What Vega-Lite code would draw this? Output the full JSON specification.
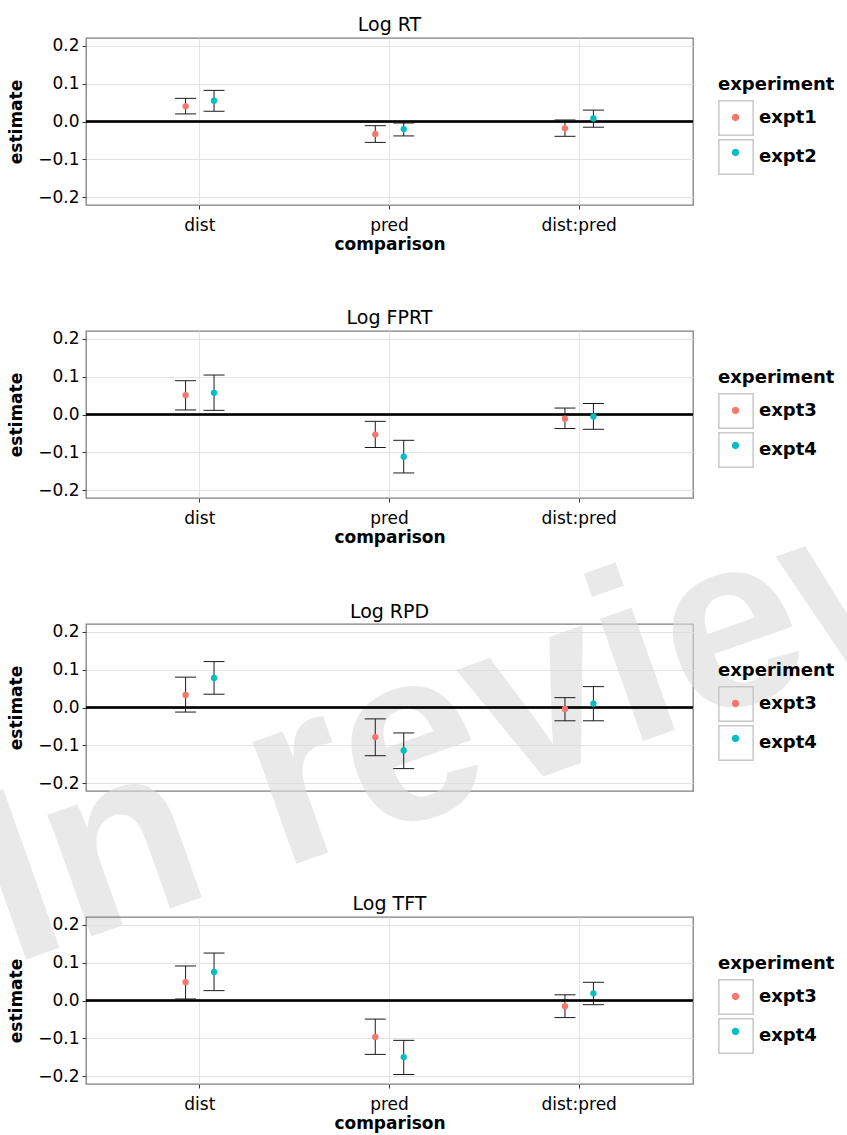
{
  "$schema": "https://vega.github.io/schema/vega-lite/v6.json",
  "autosize": {"type": "none"},
  "padding": {"left": 86, "top": 38, "right": 761, "bottom": 1097},
  "bounds": "flush",
  "background": "white",
  "datasets": {
    "rt": [
      {"comparison": "dist", "experiment": "expt1", "estimate": 0.040, "lower": 0.020, "upper": 0.061},
      {"comparison": "dist", "experiment": "expt2", "estimate": 0.055, "lower": 0.027, "upper": 0.082},
      {"comparison": "pred", "experiment": "expt1", "estimate": -0.033, "lower": -0.055, "upper": -0.011},
      {"comparison": "pred", "experiment": "expt2", "estimate": -0.020, "lower": -0.038, "upper": -0.004},
      {"comparison": "dist:pred", "experiment": "expt1", "estimate": -0.018, "lower": -0.039, "upper": 0.004},
      {"comparison": "dist:pred", "experiment": "expt2", "estimate": 0.008, "lower": -0.015, "upper": 0.030}
    ],
    "fprt": [
      {"comparison": "dist", "experiment": "expt3", "estimate": 0.051, "lower": 0.012, "upper": 0.089},
      {"comparison": "dist", "experiment": "expt4", "estimate": 0.057, "lower": 0.011, "upper": 0.104},
      {"comparison": "pred", "experiment": "expt3", "estimate": -0.053, "lower": -0.087, "upper": -0.018},
      {"comparison": "pred", "experiment": "expt4", "estimate": -0.111, "lower": -0.154, "upper": -0.068},
      {"comparison": "dist:pred", "experiment": "expt3", "estimate": -0.011, "lower": -0.037, "upper": 0.017},
      {"comparison": "dist:pred", "experiment": "expt4", "estimate": -0.005, "lower": -0.039, "upper": 0.029}
    ],
    "rpd": [
      {"comparison": "dist", "experiment": "expt3", "estimate": 0.033, "lower": -0.012, "upper": 0.080},
      {"comparison": "dist", "experiment": "expt4", "estimate": 0.078, "lower": 0.035, "upper": 0.121},
      {"comparison": "pred", "experiment": "expt3", "estimate": -0.078, "lower": -0.127, "upper": -0.030},
      {"comparison": "pred", "experiment": "expt4", "estimate": -0.113, "lower": -0.161, "upper": -0.067},
      {"comparison": "dist:pred", "experiment": "expt3", "estimate": -0.004, "lower": -0.035, "upper": 0.026},
      {"comparison": "dist:pred", "experiment": "expt4", "estimate": 0.010, "lower": -0.035, "upper": 0.055}
    ],
    "tft": [
      {"comparison": "dist", "experiment": "expt3", "estimate": 0.048, "lower": 0.004, "upper": 0.091},
      {"comparison": "dist", "experiment": "expt4", "estimate": 0.075, "lower": 0.026, "upper": 0.125},
      {"comparison": "pred", "experiment": "expt3", "estimate": -0.096, "lower": -0.142, "upper": -0.049},
      {"comparison": "pred", "experiment": "expt4", "estimate": -0.149, "lower": -0.195, "upper": -0.105},
      {"comparison": "dist:pred", "experiment": "expt3", "estimate": -0.015, "lower": -0.045, "upper": 0.015},
      {"comparison": "dist:pred", "experiment": "expt4", "estimate": 0.019, "lower": -0.011, "upper": 0.048}
    ],
    "keys12": [{"key": "expt1"}, {"key": "expt2"}],
    "keys34": [{"key": "expt3"}, {"key": "expt4"}],
    "watermark": [{"label": "In review"}],
    "title3": [{"label": "Log RPD"}]
  },
  "spacing": 126,
  "resolve": {
    "scale": {"color": "independent", "shape": "independent", "xOffset": "independent"},
    "legend": {"color": "independent", "shape": "independent"}
  },
  "vconcat": [
    {
      "width": 607, "height": 167,
      "title": {"text": "Log RT"},
      "data": {"name": "rt"},
      "layer": [
        {"mark": {"type": "rule", "color": "black", "strokeWidth": 1.5}, "encoding": {"y": {"datum": 0, "type": "quantitative", "scale": {"domain": [-0.22, 0.22], "nice": false, "zero": false}}}},
        {"mark": {"type": "rule", "color": "#1a1a1a", "strokeWidth": 1},
         "encoding": {
           "x": {"field": "comparison", "type": "nominal", "scale": {"type": "band", "domain": ["dist", "pred", "dist:pred"], "paddingInner": 0.7, "paddingOuter": 0.45}, "title": "comparison", "axis": {"labelAngle": 0, "labelAlign": "center", "labelBaseline": "top", "grid": true, "bandPosition": 0.5, "domain": false}},
           "xOffset": {"field": "experiment", "type": "nominal", "scale": {"paddingInner": 0, "paddingOuter": 0}},
           "y": {"field": "lower", "type": "quantitative", "scale": {"domain": [-0.22, 0.22], "nice": false, "zero": false}, "title": "estimate",
                 "axis": {"values": [-0.2, -0.15, -0.1, -0.05, 0, 0.05, 0.1, 0.15, 0.2], "domain": false, "grid": true,
                          "labelExpr": "abs(round(datum.value*100)) % 10 == 5 ? '' : format(datum.value, '.1f')",
                          "tickColor": {"condition": {"test": "abs(round(datum.value*100)) % 10 == 5", "value": "transparent"}, "value": "#333333"},
                          "gridColor": {"condition": {"test": "abs(round(datum.value*100)) % 10 == 5", "value": "#f3f3f3"}, "value": "#e3e3e3"}}},
           "y2": {"field": "upper"}
         }},
        {"mark": {"type": "tick", "color": "#1a1a1a", "thickness": 1, "size": 21, "opacity": 1},
         "encoding": {"x": {"field": "comparison", "type": "nominal"}, "xOffset": {"field": "experiment", "type": "nominal"}, "y": {"field": "lower", "type": "quantitative"}}},
        {"mark": {"type": "tick", "color": "#1a1a1a", "thickness": 1, "size": 21, "opacity": 1},
         "encoding": {"x": {"field": "comparison", "type": "nominal"}, "xOffset": {"field": "experiment", "type": "nominal"}, "y": {"field": "upper", "type": "quantitative"}}},
        {"mark": {"type": "point", "filled": true, "size": 40, "opacity": 1},
         "encoding": {
           "x": {"field": "comparison", "type": "nominal"},
           "xOffset": {"field": "experiment", "type": "nominal"},
           "y": {"field": "estimate", "type": "quantitative"},
           "color": {"field": "experiment", "type": "nominal", "scale": {"range": ["#F8766D", "#00BFC4"]},
                     "legend": {"title": "experiment", "symbolType": "M -1 -1 M 1 1 M 0.213 0 A 0.213 0.213 0 1 1 -0.213 0 A 0.213 0.213 0 1 1 0.213 0 Z", "titleOpacity": 0, "labelOpacity": 0, "symbolStrokeWidth": 0, "symbolOpacity": 1}}
         }},
        {"data": {"name": "keys12"}, "mark": {"type": "point", "opacity": 0, "color": "#c8c8c8"},
         "encoding": {
           "shape": {"field": "key", "type": "nominal", "scale": {"range": ["square", "square"]},
                     "legend": {"title": "experiment", "symbolType": "square", "symbolStrokeColor": "#c8c8c8", "symbolOpacity": 1,
                                "encode": {"symbols": {"fill": {"value": "transparent"}, "stroke": {"value": "#c8c8c8"}, "strokeWidth": {"value": 1}, "opacity": {"value": 1}}}}}
         }}
      ]
    },
    {
      "width": 607, "height": 167,
      "title": {"text": "Log FPRT"},
      "data": {"name": "fprt"},
      "layer": [
        {"mark": {"type": "rule", "color": "black", "strokeWidth": 1.5}, "encoding": {"y": {"datum": 0, "type": "quantitative", "scale": {"domain": [-0.22, 0.22], "nice": false, "zero": false}}}},
        {"mark": {"type": "rule", "color": "#1a1a1a", "strokeWidth": 1},
         "encoding": {
           "x": {"field": "comparison", "type": "nominal", "scale": {"type": "band", "domain": ["dist", "pred", "dist:pred"], "paddingInner": 0.7, "paddingOuter": 0.45}, "title": "comparison", "axis": {"labelAngle": 0, "labelAlign": "center", "labelBaseline": "top", "grid": true, "bandPosition": 0.5, "domain": false}},
           "xOffset": {"field": "experiment", "type": "nominal", "scale": {"paddingInner": 0, "paddingOuter": 0}},
           "y": {"field": "lower", "type": "quantitative", "scale": {"domain": [-0.22, 0.22], "nice": false, "zero": false}, "title": "estimate",
                 "axis": {"values": [-0.2, -0.15, -0.1, -0.05, 0, 0.05, 0.1, 0.15, 0.2], "domain": false, "grid": true,
                          "labelExpr": "abs(round(datum.value*100)) % 10 == 5 ? '' : format(datum.value, '.1f')",
                          "tickColor": {"condition": {"test": "abs(round(datum.value*100)) % 10 == 5", "value": "transparent"}, "value": "#333333"},
                          "gridColor": {"condition": {"test": "abs(round(datum.value*100)) % 10 == 5", "value": "#f3f3f3"}, "value": "#e3e3e3"}}},
           "y2": {"field": "upper"}
         }},
        {"mark": {"type": "tick", "color": "#1a1a1a", "thickness": 1, "size": 21, "opacity": 1},
         "encoding": {"x": {"field": "comparison", "type": "nominal"}, "xOffset": {"field": "experiment", "type": "nominal"}, "y": {"field": "lower", "type": "quantitative"}}},
        {"mark": {"type": "tick", "color": "#1a1a1a", "thickness": 1, "size": 21, "opacity": 1},
         "encoding": {"x": {"field": "comparison", "type": "nominal"}, "xOffset": {"field": "experiment", "type": "nominal"}, "y": {"field": "upper", "type": "quantitative"}}},
        {"mark": {"type": "point", "filled": true, "size": 40, "opacity": 1},
         "encoding": {
           "x": {"field": "comparison", "type": "nominal"},
           "xOffset": {"field": "experiment", "type": "nominal"},
           "y": {"field": "estimate", "type": "quantitative"},
           "color": {"field": "experiment", "type": "nominal", "scale": {"range": ["#F8766D", "#00BFC4"]},
                     "legend": {"title": "experiment", "symbolType": "M -1 -1 M 1 1 M 0.213 0 A 0.213 0.213 0 1 1 -0.213 0 A 0.213 0.213 0 1 1 0.213 0 Z", "titleOpacity": 0, "labelOpacity": 0, "symbolStrokeWidth": 0, "symbolOpacity": 1}}
         }},
        {"data": {"name": "keys34"}, "mark": {"type": "point", "opacity": 0, "color": "#c8c8c8"},
         "encoding": {
           "shape": {"field": "key", "type": "nominal", "scale": {"range": ["square", "square"]},
                     "legend": {"title": "experiment", "symbolType": "square", "symbolStrokeColor": "#c8c8c8", "symbolOpacity": 1,
                                "encode": {"symbols": {"fill": {"value": "transparent"}, "stroke": {"value": "#c8c8c8"}, "strokeWidth": {"value": 1}, "opacity": {"value": 1}}}}}
         }}
      ]
    },
    {
      "width": 607, "height": 167,
      "data": {"name": "rpd"},
      "layer": [
        {"data": {"name": "watermark"},
         "mark": {"type": "text", "font": "Liberation Sans", "fontWeight": "bold", "fontSize": 245, "angle": 340.5, "align": "center", "baseline": "alphabetic", "color": "#dcdcdc", "opacity": 0.6},
         "encoding": {"text": {"field": "label", "type": "nominal"}, "x": {"datum": "pred", "type": "nominal", "bandPosition": 2.53, "axis": null}, "y": {"datum": -0.2174, "type": "quantitative"}}},
        {"data": {"name": "title3"},
         "mark": {"type": "text", "font": "DejaVu Sans", "fontSize": 19, "align": "center", "baseline": "alphabetic", "color": "black"},
         "encoding": {"text": {"field": "label", "type": "nominal"}, "y": {"datum": 0.2358, "type": "quantitative"}}},
        {"mark": {"type": "rule", "color": "black", "strokeWidth": 1.5}, "encoding": {"y": {"datum": 0, "type": "quantitative", "scale": {"domain": [-0.22, 0.22], "nice": false, "zero": false}}}},
        {"mark": {"type": "rule", "color": "#1a1a1a", "strokeWidth": 1},
         "encoding": {
           "x": {"field": "comparison", "type": "nominal", "scale": {"type": "band", "domain": ["dist", "pred", "dist:pred"], "paddingInner": 0.7, "paddingOuter": 0.45}, "title": "comparison", "axis": {"labelAngle": 0, "labelAlign": "center", "labelBaseline": "top", "grid": true, "bandPosition": 0.5, "domain": false}},
           "xOffset": {"field": "experiment", "type": "nominal", "scale": {"paddingInner": 0, "paddingOuter": 0}},
           "y": {"field": "lower", "type": "quantitative", "scale": {"domain": [-0.22, 0.22], "nice": false, "zero": false}, "title": "estimate",
                 "axis": {"values": [-0.2, -0.15, -0.1, -0.05, 0, 0.05, 0.1, 0.15, 0.2], "domain": false, "grid": true,
                          "labelExpr": "abs(round(datum.value*100)) % 10 == 5 ? '' : format(datum.value, '.1f')",
                          "tickColor": {"condition": {"test": "abs(round(datum.value*100)) % 10 == 5", "value": "transparent"}, "value": "#333333"},
                          "gridColor": {"condition": {"test": "abs(round(datum.value*100)) % 10 == 5", "value": "#f3f3f3"}, "value": "#e3e3e3"}}},
           "y2": {"field": "upper"}
         }},
        {"mark": {"type": "tick", "color": "#1a1a1a", "thickness": 1, "size": 21, "opacity": 1},
         "encoding": {"x": {"field": "comparison", "type": "nominal"}, "xOffset": {"field": "experiment", "type": "nominal"}, "y": {"field": "lower", "type": "quantitative"}}},
        {"mark": {"type": "tick", "color": "#1a1a1a", "thickness": 1, "size": 21, "opacity": 1},
         "encoding": {"x": {"field": "comparison", "type": "nominal"}, "xOffset": {"field": "experiment", "type": "nominal"}, "y": {"field": "upper", "type": "quantitative"}}},
        {"mark": {"type": "point", "filled": true, "size": 40, "opacity": 1},
         "encoding": {
           "x": {"field": "comparison", "type": "nominal"},
           "xOffset": {"field": "experiment", "type": "nominal"},
           "y": {"field": "estimate", "type": "quantitative"},
           "color": {"field": "experiment", "type": "nominal", "scale": {"range": ["#F8766D", "#00BFC4"]},
                     "legend": {"title": "experiment", "symbolType": "M -1 -1 M 1 1 M 0.213 0 A 0.213 0.213 0 1 1 -0.213 0 A 0.213 0.213 0 1 1 0.213 0 Z", "titleOpacity": 0, "labelOpacity": 0, "symbolStrokeWidth": 0, "symbolOpacity": 1}}
         }},
        {"data": {"name": "keys34"}, "mark": {"type": "point", "opacity": 0, "color": "#c8c8c8"},
         "encoding": {
           "shape": {"field": "key", "type": "nominal", "scale": {"range": ["square", "square"]},
                     "legend": {"title": "experiment", "symbolType": "square", "symbolStrokeColor": "#c8c8c8", "symbolOpacity": 1,
                                "encode": {"symbols": {"fill": {"value": "transparent"}, "stroke": {"value": "#c8c8c8"}, "strokeWidth": {"value": 1}, "opacity": {"value": 1}}}}}
         }}
      ]
    },
    {
      "width": 607, "height": 167,
      "title": {"text": "Log TFT"},
      "data": {"name": "tft"},
      "layer": [
        {"mark": {"type": "rule", "color": "black", "strokeWidth": 1.5}, "encoding": {"y": {"datum": 0, "type": "quantitative", "scale": {"domain": [-0.22, 0.22], "nice": false, "zero": false}}}},
        {"mark": {"type": "rule", "color": "#1a1a1a", "strokeWidth": 1},
         "encoding": {
           "x": {"field": "comparison", "type": "nominal", "scale": {"type": "band", "domain": ["dist", "pred", "dist:pred"], "paddingInner": 0.7, "paddingOuter": 0.45}, "title": "comparison", "axis": {"labelAngle": 0, "labelAlign": "center", "labelBaseline": "top", "grid": true, "bandPosition": 0.5, "domain": false}},
           "xOffset": {"field": "experiment", "type": "nominal", "scale": {"paddingInner": 0, "paddingOuter": 0}},
           "y": {"field": "lower", "type": "quantitative", "scale": {"domain": [-0.22, 0.22], "nice": false, "zero": false}, "title": "estimate",
                 "axis": {"values": [-0.2, -0.15, -0.1, -0.05, 0, 0.05, 0.1, 0.15, 0.2], "domain": false, "grid": true,
                          "labelExpr": "abs(round(datum.value*100)) % 10 == 5 ? '' : format(datum.value, '.1f')",
                          "tickColor": {"condition": {"test": "abs(round(datum.value*100)) % 10 == 5", "value": "transparent"}, "value": "#333333"},
                          "gridColor": {"condition": {"test": "abs(round(datum.value*100)) % 10 == 5", "value": "#f3f3f3"}, "value": "#e3e3e3"}}},
           "y2": {"field": "upper"}
         }},
        {"mark": {"type": "tick", "color": "#1a1a1a", "thickness": 1, "size": 21, "opacity": 1},
         "encoding": {"x": {"field": "comparison", "type": "nominal"}, "xOffset": {"field": "experiment", "type": "nominal"}, "y": {"field": "lower", "type": "quantitative"}}},
        {"mark": {"type": "tick", "color": "#1a1a1a", "thickness": 1, "size": 21, "opacity": 1},
         "encoding": {"x": {"field": "comparison", "type": "nominal"}, "xOffset": {"field": "experiment", "type": "nominal"}, "y": {"field": "upper", "type": "quantitative"}}},
        {"mark": {"type": "point", "filled": true, "size": 40, "opacity": 1},
         "encoding": {
           "x": {"field": "comparison", "type": "nominal"},
           "xOffset": {"field": "experiment", "type": "nominal"},
           "y": {"field": "estimate", "type": "quantitative"},
           "color": {"field": "experiment", "type": "nominal", "scale": {"range": ["#F8766D", "#00BFC4"]},
                     "legend": {"title": "experiment", "symbolType": "M -1 -1 M 1 1 M 0.213 0 A 0.213 0.213 0 1 1 -0.213 0 A 0.213 0.213 0 1 1 0.213 0 Z", "titleOpacity": 0, "labelOpacity": 0, "symbolStrokeWidth": 0, "symbolOpacity": 1}}
         }},
        {"data": {"name": "keys34"}, "mark": {"type": "point", "opacity": 0, "color": "#c8c8c8"},
         "encoding": {
           "shape": {"field": "key", "type": "nominal", "scale": {"range": ["square", "square"]},
                     "legend": {"title": "experiment", "symbolType": "square", "symbolStrokeColor": "#c8c8c8", "symbolOpacity": 1,
                                "encode": {"symbols": {"fill": {"value": "transparent"}, "stroke": {"value": "#c8c8c8"}, "strokeWidth": {"value": 1}, "opacity": {"value": 1}}}}}
         }}
      ]
    }
  ],
  "config": {
    "font": "DejaVu Sans",
    "view": {"stroke": "#7f7f7f", "strokeWidth": 1.3},
    "title": {"font": "DejaVu Sans", "fontSize": 19, "fontWeight": "normal", "color": "black", "anchor": "middle", "frame": "group", "baseline": "alphabetic", "offset": 2},
    "axis": {"labelFont": "DejaVu Sans", "labelFontSize": 17, "labelColor": "black", "titleFont": "DejaVu Sans", "titleFontSize": 17, "titleFontWeight": "bold", "titleColor": "black", "tickSize": 4, "tickColor": "#333333", "labelPadding": 3, "gridColor": "#e3e3e3"},
    "axisX": {"labelPadding": 8, "titlePadding": 3},
    "axisY": {"titlePadding": 12},
    "legend": {"orient": "none", "legendX": 632, "legendY": 38, "titleFont": "DejaVu Sans", "titleFontSize": 18, "titleFontWeight": "bold", "titleColor": "black", "titlePadding": 6, "labelFont": "DejaVu Sans", "labelFontSize": 18, "labelFontWeight": "bold", "labelColor": "black", "labelOffset": 5, "symbolSize": 1176, "rowPadding": -8}
  }
}
